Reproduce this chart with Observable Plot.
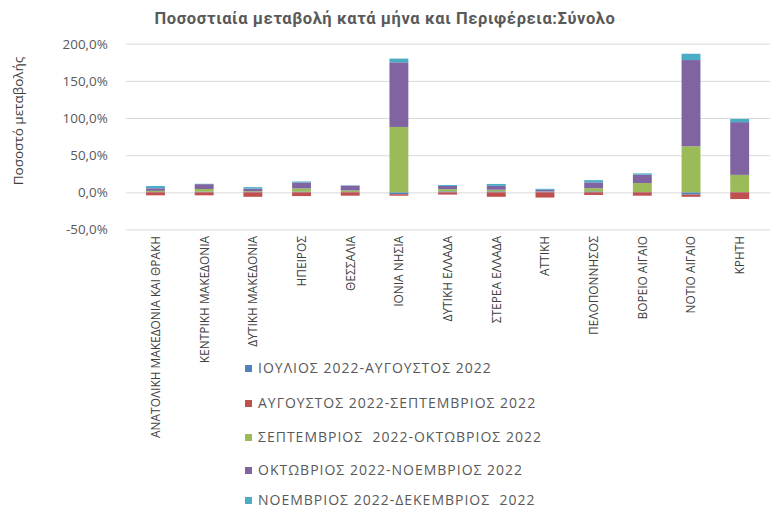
<!DOCTYPE html>
<html><head><meta charset="utf-8">
<script src="https://cdn.jsdelivr.net/npm/d3@7"></script>
<script src="https://cdn.jsdelivr.net/npm/@observablehq/plot@0.6"></script>
<style>
html,body{margin:0;padding:0;background:#fff;}
#wrap{position:relative;width:770px;height:508px;overflow:hidden;font-family:"Open Sans","Noto Sans",sans-serif;}
#title{position:absolute;left:0;width:770px;top:9px;text-align:center;font-family:Roboto,"Noto Sans",sans-serif;font-weight:bold;font-size:16.5px;letter-spacing:0.6px;color:#595959;}
#chart{position:absolute;left:0;top:0;}
#ylabel{position:absolute;left:18px;top:121px;transform:translate(-50%,-50%) rotate(-90deg);white-space:nowrap;font-size:13.5px;color:#404040;}
#legend{position:absolute;left:245px;top:0;}
.item{position:absolute;left:0;white-space:pre;font-size:14px;letter-spacing:1px;color:#595959;line-height:12px;height:12px;}
.sw{display:inline-block;width:7px;height:7px;margin-right:6px;vertical-align:1px;}
</style></head><body>
<div id="wrap">
<div id="title">Ποσοστιαία μεταβολή κατά μήνα και Περιφέρεια:Σύνολο</div>
<div id="chart"></div>
<div id="ylabel">Ποσοστό μεταβολής</div>
<div id="legend"></div>
</div>
<script>
const regions = ["ΑΝΑΤΟΛΙΚΗ ΜΑΚΕΔΟΝΙΑ ΚΑΙ ΘΡΑΚΗ","ΚΕΝΤΡΙΚΗ ΜΑΚΕΔΟΝΙΑ","ΔΥΤΙΚΗ ΜΑΚΕΔΟΝΙΑ","ΗΠΕΙΡΟΣ","ΘΕΣΣΑΛΙΑ","ΙΟΝΙΑ ΝΗΣΙΑ","ΔΥΤΙΚΗ ΕΛΛΑΔΑ","ΣΤΕΡΕΑ ΕΛΛΑΔΑ","ΑΤΤΙΚΗ","ΠΕΛΟΠΟΝΝΗΣΟΣ","ΒΟΡΕΙΟ ΑΙΓΑΙΟ","ΝΟΤΙΟ ΑΙΓΑΙΟ","ΚΡΗΤΗ"];
const seriesNames = ["ΙΟΥΛΙΟΣ 2022-ΑΥΓΟΥΣΤΟΣ 2022","ΑΥΓΟΥΣΤΟΣ 2022-ΣΕΠΤΕΜΒΡΙΟΣ 2022","ΣΕΠΤΕΜΒΡΙΟΣ  2022-ΟΚΤΩΒΡΙΟΣ 2022","ΟΚΤΩΒΡΙΟΣ 2022-ΝΟΕΜΒΡΙΟΣ 2022","ΝΟΕΜΒΡΙΟΣ 2022-ΔΕΚΕΜΒΡΙΟΣ  2022"];
const julAug = [0.5, 1, 0.5, 1, 0.5, -2.5, 1.3, 1.3, 1, 1.3, 0.5, -3, 0.5];
const augSep = [-4, -4, -6, -5, -4.5, -2, -3, -6, -7, -3.5, -4.5, -3, -9];
const sepOct = [1.5, 3.5, 1, 4.3, 2, 88, 3, 2.2, 0.3, 4.3, 12, 62, 23];
const octNov = [3.5, 6.5, 3.5, 8, 6.5, 87, 4.3, 5.2, 2.2, 7.8, 11.3, 116, 71];
const novDec = [3, 0.5, 2, 1.3, 0.5, 5, 1.3, 2.6, 1.3, 3, 1.7, 8.5, 4.3];
const yTicks = [-50, 0, 50, 100, 150, 200];
const colors = ["#4f81bd","#c0504d","#9bbb59","#8064a2","#4bacc6"];

const seriesValues = [julAug, augSep, sepOct, octNov, novDec];
const data = seriesNames.flatMap((s, si) => regions.map((r, i) => ({region: r, series: s, value: seriesValues[si][i]})));
const fmt = d => d.toFixed(1).replace(".", ",") + "%";

const chart = Plot.plot({
  width: 775, height: 350,
  marginLeft: 127, marginRight: 0, marginTop: 44, marginBottom: 119,
  style: {fontFamily: '"Open Sans","Noto Sans",sans-serif', fontSize: "13px", color: "#595959", background: "transparent", overflow: "visible"},
  x: {domain: regions, paddingInner: 0.61, paddingOuter: 0.305, label: null},
  y: {domain: [-50, 200], label: null},
  color: {domain: seriesNames, range: colors},
  marks: [
    Plot.gridY(yTicks, {stroke: "#d9d9d9", strokeOpacity: 1, strokeWidth: 1}),
    Plot.axisY(yTicks, {tickSize: 0, tickPadding: 19, tickFormat: fmt, fontSize: 13.5, fill: "#595959"}),
    Plot.axisX({tickRotate: -90, tickSize: 0, tickPadding: 6, fontSize: 12, fill: "#404040", style: {letterSpacing: "1.9px"}}),
    Plot.barY(data, Plot.stackY({x: "region", y: "value", fill: "series"}))
  ]
});
document.getElementById("chart").appendChild(chart);

const legend = document.getElementById("legend");
const rowTop = [362, 397, 431, 464, 494];
seriesNames.forEach((s, i) => {
  const d = document.createElement("div");
  d.className = "item";
  d.style.top = rowTop[i] + "px";
  d.innerHTML = `<span class="sw" style="background:${colors[i]}"></span>`;
  d.appendChild(document.createTextNode(s));
  legend.appendChild(d);
});
</script>
</body></html>
